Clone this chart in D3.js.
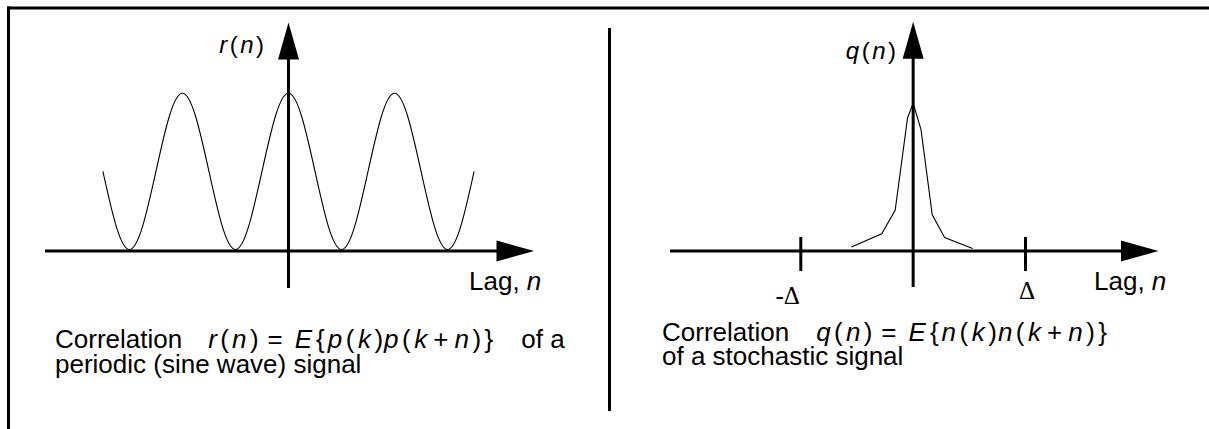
<!DOCTYPE html>
<html>
<head>
<meta charset="utf-8">
<script src="https://cdn.jsdelivr.net/npm/d3@7"></script>
<style>
  html, body { margin: 0; padding: 0; background: #fff; }
  svg { display: block; }
  text { font-family: "Liberation Sans", Arial, sans-serif; fill: #000; }
</style>
</head>
<body>
<svg id="fig" width="1209" height="429"></svg>
<script>
// Periodic (sine wave) signal: correlation read every eighth of a period
const periodicLags = [-14, -13, -12, -11, -10, -9, -8, -7, -6, -5, -4, -3, -2, -1, 0,
                      1, 2, 3, 4, 5, 6, 7, 8, 9, 10, 11, 12, 13, 14];
const periodicR = [0.5, 0.15, 0, 0.15, 0.5, 0.85, 1, 0.85, 0.5, 0.15, 0, 0.15, 0.5, 0.85, 1,
                   0.85, 0.5, 0.15, 0, 0.15, 0.5, 0.85, 1, 0.85, 0.5, 0.15, 0, 0.15, 0.5];

// Stochastic signal: narrow correlation peak around zero lag (Δ = 10 lag units)
const stochasticLags = [-5.5, -2.8, -1.6, -0.5, 0, 0.7, 1.7, 2.8, 5.3];
const stochasticQ = [0.02, 0.11, 0.27, 0.9, 1, 0.82, 0.24, 0.085, 0.01];
const deltaTicks = [-10, 10];
const deltaTickLabels = ["-\u0394", "\u0394"];

const svg = d3.select("#fig");
const ink = "#000";

// Frame: top rule, left rule, and the divider between the two panels
svg.append("line").attr("x1", 7).attr("x2", 1209).attr("y1", 8).attr("y2", 8)
  .attr("stroke", ink).attr("stroke-width", 3);
svg.append("line").attr("x1", 8.5).attr("x2", 8.5).attr("y1", 6.5).attr("y2", 429)
  .attr("stroke", ink).attr("stroke-width", 3);
svg.append("line").attr("x1", 609.5).attr("x2", 609.5).attr("y1", 28).attr("y2", 411)
  .attr("stroke", ink).attr("stroke-width", 3);

const axisY = 251;

// Thick horizontal and vertical axes with solid triangular arrowheads
function arrowAxes(g, cx, xStart, xTip, yBottom, yTip) {
  g.append("line").attr("x1", xStart).attr("x2", xTip - 30).attr("y1", axisY).attr("y2", axisY)
    .attr("stroke", ink).attr("stroke-width", 3);
  g.append("path")
    .attr("d", `M${xTip},${axisY} L${xTip - 37.5},${axisY - 10.5} L${xTip - 37.5},${axisY + 10.5} Z`)
    .attr("fill", ink);
  g.append("line").attr("x1", cx).attr("x2", cx).attr("y1", yBottom).attr("y2", yTip + 30)
    .attr("stroke", ink).attr("stroke-width", 3);
  g.append("path")
    .attr("d", `M${cx},${yTip} L${cx - 10.5},${yTip + 37} L${cx + 10.5},${yTip + 37} Z`)
    .attr("fill", ink);
}

// A text block built from lines of pieces; italic pieces are the math symbols
function textBlock(g, x, y, lines, size, lineGap, anchor) {
  const t = g.append("text").attr("x", x).attr("y", y)
    .attr("font-size", size).attr("text-anchor", anchor || "start")
    .attr("xml:space", "preserve");
  lines.forEach((pieces, j) => {
    pieces.forEach((p, k) => {
      const s = t.append("tspan").text(p.t);
      if (p.i) s.attr("font-style", "italic");
      if (j > 0 && k === 0) s.attr("x", x).attr("dy", lineGap);
      else if (p.dx) s.attr("dx", p.dx);
    });
  });
  return t;
}

// f(a) with thin gaps between the symbols
function fn(name, arg, gap, lead) {
  return [{ t: name, i: true, dx: lead || 0 }, { t: "(", dx: gap }, { t: arg, i: true, dx: gap }, { t: ")", dx: gap }];
}

// E{f(k)f(k + n)}
function expectation(f) {
  return [
    { t: "E", i: true, dx: 12 }, { t: "{", dx: 4 },
    ...fn(f, "k", 3.5, 3),
    ...fn(f, "k", 3.5, 1).slice(0, 3),
    { t: "+", dx: 6 }, { t: "n", i: true, dx: 6 }, { t: ")", dx: 3.5 }, { t: "}", dx: 3.5 }
  ];
}

const capFs = 26;

/* ---------------- Left panel: periodic signal ---------------- */
const left = svg.append("g");
const xL = d3.scaleLinear().domain([-14, 14]).range([102.9, 474.1]);
const yL = d3.scaleLinear().domain([0, 1]).range([249.5, 93.3]);

arrowAxes(left, xL(0), 45, 534, 288, 22.5);

left.append("path")
  .datum(periodicLags.map((n, i) => [n, periodicR[i]]))
  .attr("fill", "none").attr("stroke", ink).attr("stroke-width", 1.1)
  .attr("d", d3.line().x(d => xL(d[0])).y(d => yL(d[1])).curve(d3.curveNatural));

textBlock(left, 264, 53, [fn("r", "n", 2.5)], 24, 0, "end");
textBlock(left, 469, 289.5, [[{ t: "Lag, " }, { t: "n", i: true }]], capFs, 0);

textBlock(left, 55, 348, [
  [
    { t: "Correlation" },
    ...fn("r", "n", 3.3, 26),
    { t: "=", dx: 9 },
    ...expectation("p"),
    { t: "of a", dx: 28 }
  ],
  [{ t: "periodic (sine wave) signal" }]
], capFs, 25);

/* ---------------- Right panel: stochastic signal ---------------- */
const right = svg.append("g");
const xR = d3.scaleLinear().domain([-10, 10]).range([800.8, 1025.5]);
const yR = d3.scaleLinear().domain([0, 1]).range([250, 103.3]);

arrowAxes(right, xR(0), 670, 1158.5, 287, 21.7);

right.selectAll("line.delta").data(deltaTicks).join("line")
  .attr("class", "delta")
  .attr("x1", d => xR(d)).attr("x2", d => xR(d))
  .attr("y1", 237).attr("y2", 271)
  .attr("stroke", ink).attr("stroke-width", 3);

right.selectAll("text.delta").data(deltaTicks).join("text")
  .attr("class", "delta")
  .attr("x", d => d < 0 ? xR(d) - 1 : xR(d) + 1.5)
  .attr("y", d => d < 0 ? 304 : 298.5)
  .attr("text-anchor", d => d < 0 ? "end" : "middle")
  .attr("font-size", 25)
  .style("font-family", "'Liberation Serif', 'Times New Roman', serif")
  .text((d, i) => deltaTickLabels[i]);

right.append("path")
  .datum(stochasticLags.map((n, i) => [n, stochasticQ[i]]))
  .attr("fill", "none").attr("stroke", ink).attr("stroke-width", 1.1)
  .attr("d", d3.line().x(d => xR(d[0])).y(d => yR(d[1])));

textBlock(right, 896, 59, [fn("q", "n", 2.5)], 24, 0, "end");
textBlock(right, 1094, 290, [[{ t: "Lag, " }, { t: "n", i: true }]], capFs, 0);

textBlock(right, 662, 341, [
  [
    { t: "Correlation" },
    ...fn("q", "n", 3.3, 27),
    { t: "=", dx: 9 },
    ...expectation("n")
  ],
  [{ t: "of a stochastic signal" }]
], capFs, 24);
</script>
</body>
</html>
